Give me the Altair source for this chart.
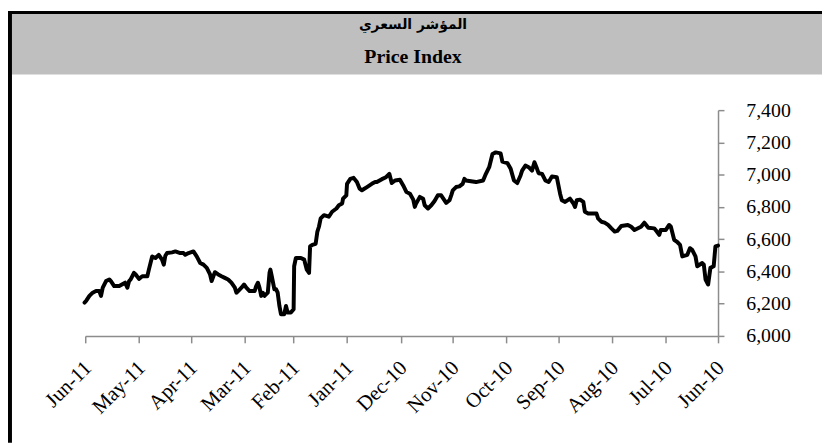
import altair as alt
import pandas as pd

title_ar = "المؤشر السعري"
title_en = "Price Index"

# day offsets from 1 Jun 2010 and index values
day_offsets = [0, 1.5, 2.5, 4.4, 5.7, 7.2, 8.2, 9.1, 12.0, 13.0, 14.9, 16.2, 17.7, 20.6, 21.9, 23.4, 25.3, 27.2, 28.2, 30.1,
               33.0, 33.9, 35.3, 36.8, 40.2, 42.5, 44.4, 48.2, 50.1, 52.0, 55.8, 58.1, 59.6, 61.5, 63.4, 65.4, 67.3, 69.2, 70.1, 74.9,
               76.8, 77.7, 79.6, 81.5, 82.5, 83.4, 85.4, 88.2, 90.1, 91.1, 93.0, 95.8, 97.7, 99.6, 101.5, 103.5, 104.4, 105.9, 107.3, 109.2,
               111.1, 113.0, 113.9, 115.8, 117.7, 119.6, 121.5, 124.4, 125.4, 128.2, 130.1, 132.0, 133.9, 135.5, 139.6, 145.4, 146.3, 147.3, 149.2, 151.1,
               153.0, 153.9, 154.9, 156.8, 159.7, 161.6, 163.5, 165.4, 167.3, 169.2, 170.1, 172.0, 174.3, 174.9, 175.8, 177.7, 179.7, 181.6, 183.5, 186.3,
               188.2, 189.6, 191.5, 193.9, 196.8,
               197.8, 199.7, 202.5, 205.4, 206.7, 208.3, 210.2, 212.1, 214.0, 214.4, 216.3, 216.8, 218.7, 220.1, 222.6, 224.5, 227.3, 229.2, 230.2, 231.1,
               232.1, 234.0, 235.3, 235.9, 237.2, 238.7, 240.6, 243.5, 244.5, 244.8, 246.4, 248.3, 249.2, 250.2, 252.1, 253.0, 254.0, 254.9, 255.9, 257.4,
               258.2, 258.7, 259.7, 261.6, 262.6, 263.5, 264.5, 265.4, 266.4, 267.3, 270.2, 272.1, 273.4, 274.9, 276.8, 277.8, 278.7, 280.7, 282.6, 284.5,
               286.4, 288.3, 290.2, 291.1, 292.1, 293.0, 294.9, 296.8, 298.7, 300.7, 302.6, 305.4, 307.3, 308.3, 310.2, 313.0, 314.9, 317.8, 318.8, 319.7,
               320.7, 322.6, 324.5, 326.4, 328.3, 329.2, 331.1, 332.1, 334.0, 335.9, 336.9, 338.8, 339.7, 340.7, 342.0, 345.4, 348.3, 350.2, 351.1, 353.0,
               354.9, 355.9, 356.9, 358.8, 360.7, 362.6, 364.5, 365.4]

index_values = [6560, 6555, 6432, 6422, 6319, 6350, 6442, 6452, 6432, 6493, 6534, 6544, 6503, 6493, 6565, 6581, 6596, 6677, 6688, 6657,
                6657, 6626, 6647, 6667, 6671, 6702, 6677, 6657, 6677, 6688, 6682, 6651, 6647, 6667, 6688, 6702, 6708, 6729, 6759, 6759,
                6770, 6831, 6845, 6841, 6800, 6821, 6851, 6831, 6841, 6882, 6984, 6989, 6954, 6964, 7005, 7009, 7036, 7077, 7025, 7046,
                7056, 7025, 6995, 6948, 6964, 7036, 7072, 7081, 7132, 7138, 7128, 7046, 7005, 6964, 6954, 6964, 6974, 6943, 6927, 6923,
                6903, 6872, 6841, 6825, 6872, 6872, 6837, 6810, 6790, 6810, 6851, 6862, 6817, 6800, 6845, 6882, 6892, 6933, 6968, 6964,
                6948, 7005, 6984, 6972, 6954,
                6954, 6943, 6923, 6903, 6913, 6954, 6980, 6974, 6943, 6872, 6851, 6821, 6810, 6790, 6770, 6739, 6749, 6729, 6677, 6647,
                6571, 6565, 6555, 6391, 6411, 6473, 6483, 6483, 6432, 6166, 6145, 6145, 6186, 6135, 6135, 6186, 6268, 6289, 6289, 6370,
                6411, 6391, 6268, 6248, 6268, 6248, 6299, 6330, 6309, 6278, 6278, 6299, 6319, 6299, 6278, 6268, 6299, 6330, 6350, 6360,
                6370, 6381, 6395, 6370, 6340, 6381, 6422, 6442, 6452, 6493, 6524, 6514, 6503, 6514, 6514, 6524, 6518, 6514, 6497, 6442,
                6473, 6503, 6483, 6493, 6411, 6370, 6370, 6370, 6354, 6381, 6391, 6350, 6340, 6299, 6330, 6309, 6309, 6340, 6350, 6340,
                6299, 6248, 6278, 6278, 6268, 6248, 6217, 6207]

month_ticks = [(2010, 6), (2010, 7), (2010, 8), (2010, 9), (2010, 10), (2010, 11), (2010, 12),
               (2011, 1), (2011, 2), (2011, 3), (2011, 4), (2011, 5), (2011, 6)]
y_ticks = [6000, 6200, 6400, 6600, 6800, 7000, 7200, 7400]

start = pd.Timestamp("2010-06-01")
df = pd.DataFrame({
    "date": start + pd.to_timedelta(day_offsets, unit="D"),
    "value": index_values,
})

tick_dates = [alt.DateTime(year=y, month=m, date=1) for y, m in month_ticks]

GRAY = "#8C8C8C"
SERIF = "Liberation Serif"

line = alt.Chart(df).mark_line(color="black", strokeWidth=4, strokeJoin="round", strokeCap="round").encode(
    x=alt.X("date:T",
            scale=alt.Scale(domain=[tick_dates[0], tick_dates[-1]], reverse=True, nice=False),
            axis=alt.Axis(values=tick_dates, format="%b-%y", labelAngle=-45, labelAlign="right",
                          labelBaseline="top", labelFont=SERIF, labelFontSize=21, labelColor="black",
                          domainColor=GRAY, domainWidth=1.5, tickColor=GRAY, tickWidth=1.5, tickSize=7,
                          labelPadding=14, labelOffset=-5, grid=False, title=None,
                          labelOverlap=False, labelFlush=False)),
    y=alt.Y("value:Q",
            scale=alt.Scale(domain=[6000, 7400], nice=False, zero=False),
            axis=alt.Axis(orient="right", values=y_ticks, format=",.0f", labelFont=SERIF, labelFontSize=20,
                          labelColor="black", domainColor=GRAY, domainWidth=1.5, tickColor=GRAY,
                          tickWidth=1.5, tickSize=6, labelPadding=22, grid=False, title=None,
                          labelBaseline="middle", labelFlush=False)),
)

one = pd.DataFrame({"k": [0]})
band = alt.Chart(one).mark_rect(color="#BFBFBF").encode(
    x=alt.value(-74), x2=alt.value(745), y=alt.value(-97), y2=alt.value(-36))
top_border = alt.Chart(one).mark_rect(color="black").encode(
    x=alt.value(-78), x2=alt.value(745), y=alt.value(-100), y2=alt.value(-97))
left_border = alt.Chart(one).mark_rect(color="black").encode(
    x=alt.value(-78), x2=alt.value(-74), y=alt.value(-100), y2=alt.value(336))

t_ar = alt.Chart(pd.DataFrame({"t": [title_ar]})).mark_text(
    font="DejaVu Sans", fontSize=14, fontWeight="bold", align="center", baseline="alphabetic", color="black"
).encode(x=alt.value(331), y=alt.value(-82), text="t:N")
t_en = alt.Chart(pd.DataFrame({"t": [title_en]})).mark_text(
    font=SERIF, fontSize=20, fontWeight="bold", align="center", baseline="alphabetic", color="black"
).encode(x=alt.value(331), y=alt.value(-48), text="t:N")

chart = alt.layer(band, top_border, left_border, t_ar, t_en, line).properties(
    width=639, height=228,
    autosize=alt.AutoSizeParams(type="none"),
    padding={"left": 78, "top": 101, "right": 105, "bottom": 107},
    background="white",
).configure_view(stroke=None)

chart.save("out.html", embed_options={"renderer": "svg", "actions": False})
